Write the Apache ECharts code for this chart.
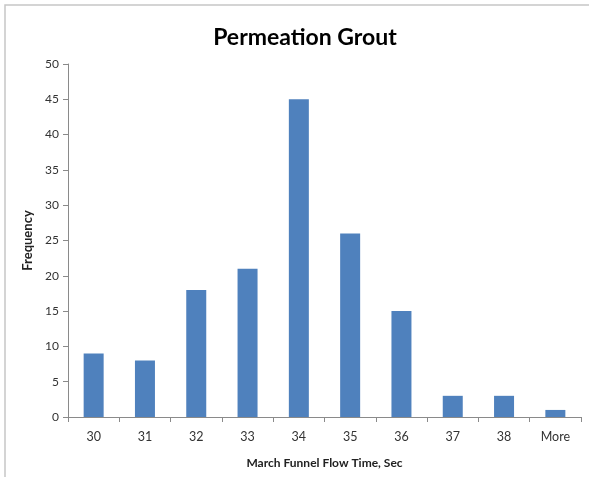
<!DOCTYPE html>
<html><head><meta charset="utf-8">
<script src="https://cdn.jsdelivr.net/npm/echarts@6/dist/echarts.min.js"></script>
<style>html,body{margin:0;padding:0;background:#fff}#c{width:589px;height:477px}</style>
</head><body><div id="c"></div>
<script>
const categories = ['30','31','32','33','34','35','36','37','38','More'];
const frequency = [9, 8, 18, 21, 45, 26, 15, 3, 3, 1];
const yTicks = [0, 50, 5];
const chart = echarts.init(document.getElementById('c'));
chart.setOption({
  animation: false,
  backgroundColor: '#fff',
  graphic: [{type:'rect', shape:{x:5, y:5, width:600, height:490}, style:{fill:'none', stroke:'#c6c6c6', lineWidth:1.5}, silent:true}],
  title: {text: 'Permeation Grout', left: 300, top: 21, textAlign: 'center',
    textStyle: {fontFamily: 'Lato', fontWeight: 'bold', fontSize: 23, color: '#000'}},
  grid: {left: 68, right: 8, top: 64, bottom: 60, containLabel: false},
  xAxis: {type: 'category', data: categories,
    name: 'March Funnel Flow Time, Sec', nameLocation: 'middle', nameGap: 40,
    nameTextStyle: {fontFamily: 'Lato', fontWeight: 'bold', fontSize: 12, color: '#222'},
    axisLine: {lineStyle: {color: '#8a8a8a'}},
    axisTick: {show: true, alignWithLabel: false, length: 5, lineStyle: {color: '#8a8a8a'}},
    axisLabel: {fontFamily: 'Lato', fontSize: 12.5, color: '#333', margin: 13}},
  yAxis: {type: 'value', min: yTicks[0], max: yTicks[1], interval: yTicks[2],
    name: 'Frequency', nameLocation: 'middle', nameGap: 30, nameRotate: 90,
    nameTextStyle: {fontFamily: 'Lato', fontWeight: 'bold', fontSize: 13, color: '#222'},
    axisLine: {show: true, lineStyle: {color: '#8a8a8a'}},
    axisTick: {show: true, length: 5, lineStyle: {color: '#8a8a8a'}},
    splitLine: {show: false},
    axisLabel: {fontFamily: 'Lato', fontSize: 12, color: '#333', margin: 9}},
  series: [{type: 'bar', data: frequency, barWidth: 20,
    itemStyle: {color: '#4f81bd'}}]
});
</script></body></html>
